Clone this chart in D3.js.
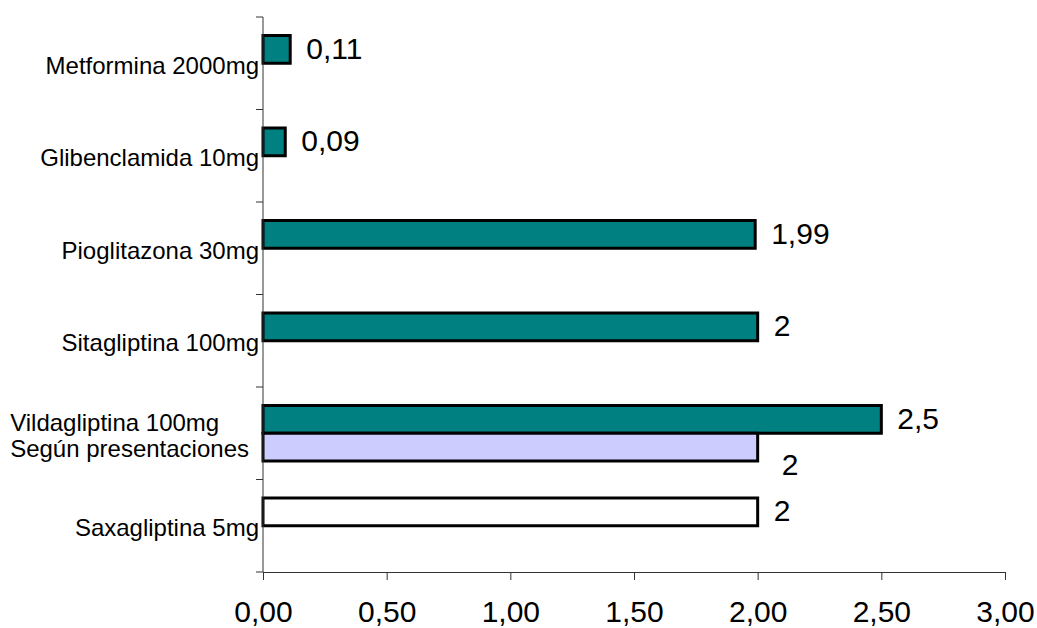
<!DOCTYPE html>
<html>
<head>
<meta charset="utf-8">
<script src="https://cdn.jsdelivr.net/npm/d3@7"></script>
<style>
  body { margin: 0; background: #fff; }
  svg text { font-family: "Liberation Sans", Arial, sans-serif; fill: #000; }
</style>
</head>
<body>
<svg id="chart" width="1037" height="628"></svg>
<script>
// Data (top to bottom)
const categories = [
    "Metformina 2000mg",
    "Glibenclamida 10mg",
    "Pioglitazona 30mg",
    "Sitagliptina 100mg",
    "Vildagliptina 100mg\nSegún presentaciones",
    "Saxagliptina 5mg"
];
const seriesNames = ["Dosis", "Según presentaciones"];
const series1Values = [0.11, 0.09, 1.99, 2, 2.5, 2];
const series2Values = [null, null, null, null, 2, null];
const xTickValues = [0, 0.5, 1, 1.5, 2, 2.5, 3];

// Styles
const seriesColors = ["#008080", "#CCCCFF"];
const fillOverride = { "Saxagliptina 5mg": "#FFFFFF" };
const labelFont = '24px "Liberation Sans", Arial, sans-serif';

const locale = d3.formatLocale({ decimal: ",", thousands: ".", grouping: [3], currency: ["", "€"] });
const tickFormat = locale.format(".2f");
const valueFormat = locale.format("~g");

const svg = d3.select("#chart");
const margin = { left: 263, right: 32, top: 17, bottom: 56 };
const width = 1037, height = 628;

const x = d3.scaleLinear().domain([0, 3]).range([margin.left, width - margin.right]);
const y = d3.scaleBand().domain(categories).range([margin.top, height - margin.bottom]).padding(0);

// sub-band for the two series inside each category
const groupHeight = y.bandwidth() * 0.6;
const ySub = d3.scaleBand().domain(seriesNames)
    .range([(y.bandwidth() - groupHeight) / 2, (y.bandwidth() + groupHeight) / 2]);

const rows = [];
categories.forEach((cat, i) => {
    [series1Values, series2Values].forEach((vals, s) => {
        if (vals[i] === null) return;
        rows.push({ cat: cat, series: seriesNames[s], s: s, value: vals[i] });
    });
});

// bars
svg.append("g")
    .selectAll("rect")
    .data(rows)
    .join("rect")
    .attr("x", x(0))
    .attr("y", d => y(d.cat) + ySub(d.series))
    .attr("width", d => x(d.value) - x(0))
    .attr("height", ySub.bandwidth())
    .attr("fill", d => (d.s === 0 && fillOverride[d.cat]) ? fillOverride[d.cat] : seriesColors[d.s])
    .attr("stroke", "#000")
    .attr("stroke-width", 3);

// value labels
svg.append("g")
    .selectAll("text")
    .data(rows)
    .join("text")
    .attr("x", d => x(d.value) + (d.s === 0 ? 16 : 24))
    .attr("y", d => y(d.cat) + ySub(d.series) + ySub.bandwidth() / 2 + (d.s === 0 ? -1 : 17))
    .attr("dominant-baseline", "central")
    .style("font-size", "30px")
    .text(d => valueFormat(d.value));

// x axis
const xAxis = svg.append("g")
    .attr("transform", `translate(0,${height - margin.bottom})`)
    .call(d3.axisBottom(x).tickValues(xTickValues).tickFormat(tickFormat).tickSize(8).tickPadding(21).tickSizeOuter(0));
xAxis.select(".domain").attr("stroke", "#333");
xAxis.selectAll(".tick line").attr("stroke", "#333");
xAxis.selectAll("text").style("font-size", "30px").attr("font-family", null);

// y axis: line and ticks at category boundaries
const yAxis = svg.append("g");
yAxis.append("line")
    .attr("x1", x(0)).attr("x2", x(0))
    .attr("y1", y.range()[0]).attr("y2", y.range()[1])
    .attr("stroke", "#333");
const boundaries = categories.map(c => y(c)).concat([y.range()[1]]);
yAxis.selectAll("line.tick")
    .data(boundaries)
    .join("line")
    .attr("class", "tick")
    .attr("x1", x(0) - 7).attr("x2", x(0))
    .attr("y1", d => d).attr("y2", d => d)
    .attr("stroke", "#333");

// category labels (multi-line labels are left aligned inside a right-aligned block)
const labelRight = x(0) - 4;
const lineHeight = 26;
categories.forEach(cat => {
    const lines = cat.split("\n");
    const g = svg.append("g");
    const texts = lines.map((ln, k) => g.append("text")
        .attr("y", y(cat) + y.bandwidth() / 2 + 2 + (k - (lines.length - 1) / 2) * lineHeight)
        .attr("dominant-baseline", "central")
        .style("font", labelFont)
        .text(ln));
    if (lines.length === 1) {
        texts[0].attr("x", labelRight).attr("text-anchor", "end");
    } else {
        const maxW = d3.max(texts, t => t.node().getComputedTextLength());
        texts.forEach(t => t.attr("x", labelRight - 10 - maxW));
    }
});
</script>
</body>
</html>
